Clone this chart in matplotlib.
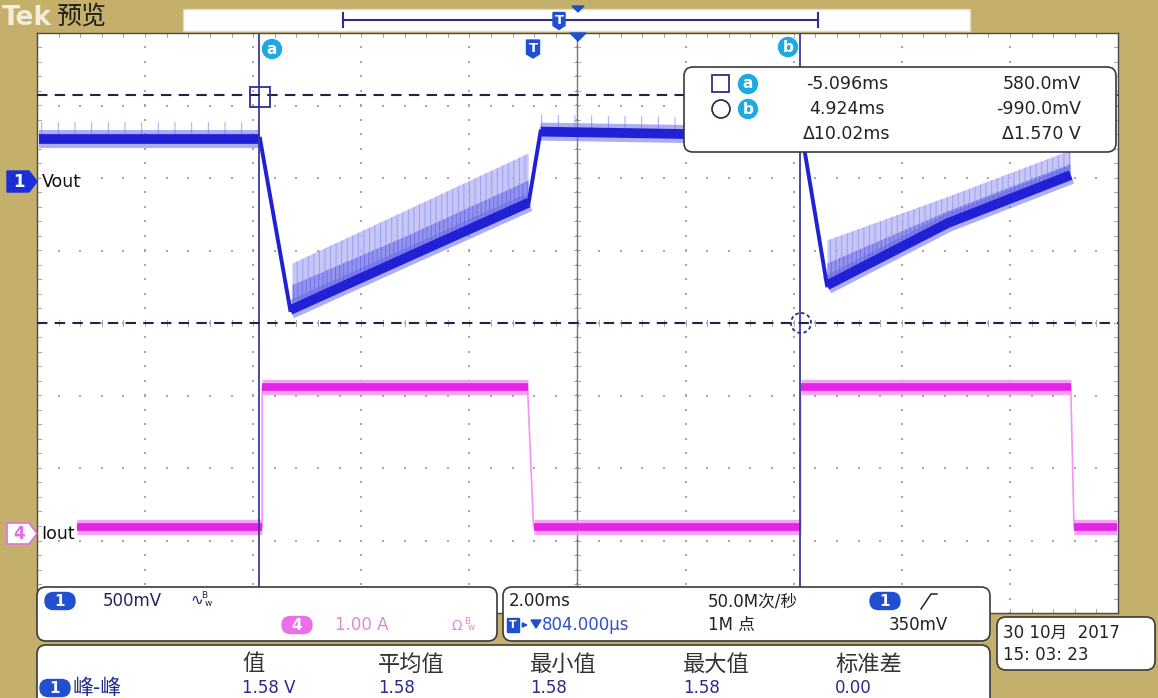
import numpy as np
import matplotlib
matplotlib.use("Agg")
import matplotlib.pyplot as plt
from matplotlib.patches import FancyBboxPatch, Rectangle, Circle, Polygon

# ---------------- data ----------------
time_per_div = 2.0        # ms/div
h_pos = 0.804             # ms : screen centre relative to trigger
ch1_scale = 0.5           # V/div
ch1_offset_div = 1.98     # ch1 ground marker position (div)
ch4_scale = 1.0           # A/div
ch4_offset_div = -2.91    # ch4 ground marker position (div)

# Vout (ch1) dark trace core, ms vs V
vout_t = [-9.15, -5.07, -4.51, -2.34, -0.10, 0.12, 4.96, 5.42, 7.66, 9.93]
vout_v = [0.28, 0.28, -0.90, -0.535, -0.16, 0.33, 0.30, -0.73, -0.30, 0.03]

# Vout ripple envelope on the two ramps
ramp1_t = [-4.47, -2.34, -0.10]
ramp1_lo = [-0.85, -0.535, -0.16]
ramp1_hi = [-0.58, -0.21, 0.18]
ramp2_t = [5.43, 7.66, 9.93]
ramp2_lo = [-0.71, -0.30, 0.03]
ramp2_hi = [-0.42, -0.12, 0.20]

# Iout (ch4), ms vs A
iout_t = [-8.45, -5.03, -5.03, -0.12, -0.01, 4.93, 4.93, 9.93, 9.99, 10.79]
iout_a = [0.10, 0.10, 2.03, 2.03, 0.10, 0.10, 2.03, 2.03, 0.10, 0.10]

# cursors
cur_a_t, cur_b_t = -5.096, 4.924
cur_a_v, cur_b_v = 0.580, -0.990

cursor_rows = [("-5.096ms", "580.0mV"), ("4.924ms", "-990.0mV"), ("\u039410.02ms", "\u03941.570 V")]
meas_headers = ["值", "平均值", "最小值", "最大值", "标准差"]
meas_values = ["1.58 V", "1.58", "1.58", "1.58", "0.00"]

# ---------------- style ----------------
TAN = "#c4af6b"
NAVY = "#2e2e8c"
BLUE_CORE = "#2020d4"
BLUE_HALO = "#6a6ae8"
BLUE_LIGHT = "#b8b8f6"
MAG_CORE = "#e524e5"
MAG_HALO = "#f294f2"
CYAN = "#1ea9e1"
TBLUE = "#2050d0"
GRID = "#a8a8a8"
CJK = "Noto Sans CJK SC"
MIX = ["DejaVu Sans", CJK]

plt.rcParams["hatch.linewidth"] = 0.7
W, H = 1158, 698
gl, gt, gr, gb = 37, 33, 1118, 613

fig = plt.figure(figsize=(W / 100, H / 100), dpi=100)
fig.patch.set_facecolor(TAN)

ax = fig.add_axes([gl / W, 1 - gb / H, (gr - gl) / W, (gb - gt) / H])
x0, x1 = h_pos - 5 * time_per_div, h_pos + 5 * time_per_div
ax.set_xlim(x0, x1)
ax.set_ylim(-4, 4)
ax.set_xticks([])
ax.set_yticks([])
ax.set_facecolor("white")
for s in ax.spines.values():
    s.set_color("#4a4a4a")
    s.set_linewidth(1.0)

pxx = (x1 - x0) / (gr - gl)     # data units per pixel (x)
pxy = 8.0 / (gb - gt)           # data units per pixel (y)

# graticule dots
xmaj = [h_pos + time_per_div * k for k in range(-4, 5)]
ymaj = list(range(-3, 4))
yminor = np.arange(-4, 4.001, 0.2)
xminor = np.arange(x0, x1 + 1e-9, time_per_div / 5)
dx, dy = [], []
for xm in xmaj:
    dx += [xm] * len(yminor)
    dy += list(yminor)
for ym in ymaj:
    dx += list(xminor)
    dy += [ym] * len(xminor)
ax.scatter(dx, dy, s=1.3, marker="s", color=GRID, linewidths=0, zorder=1)
# centre ticks and border ticks
for xm in xminor:
    ax.plot([xm, xm], [-3 * pxy, 3 * pxy], color=GRID, lw=0.7, zorder=1)
    ax.plot([xm, xm], [4 - 4 * pxy, 4], color=GRID, lw=0.7, zorder=1)
    ax.plot([xm, xm], [-4, -4 + 4 * pxy], color=GRID, lw=0.7, zorder=1)
for ym in yminor:
    ax.plot([h_pos - 3 * pxx, h_pos + 3 * pxx], [ym, ym], color=GRID, lw=0.7, zorder=1)
    ax.plot([x0, x0 + 4 * pxx], [ym, ym], color=GRID, lw=0.7, zorder=1)
    ax.plot([x1 - 4 * pxx, x1], [ym, ym], color=GRID, lw=0.7, zorder=1)
# horizontal-position line
ax.axvline(h_pos, color="#777777", lw=1.0, zorder=1.5)

# cursors
def v2d(v):
    return np.asarray(v) / ch1_scale + ch1_offset_div

for tc in (cur_a_t, cur_b_t):
    ax.axvline(tc, color="#3a3a9a", lw=1.3, zorder=6)
for vc in (cur_a_v, cur_b_v):
    ax.axhline(v2d(vc), color="#22224a", lw=1.5, ls=(0, (5, 3.5)), zorder=6)

# ---- Vout ----
vt = np.array(vout_t)
vd = v2d(vout_v)
runs, cur, cur_kind = [], [0], None
for i in range(len(vt) - 1):
    slope = abs(vout_v[i + 1] - vout_v[i]) / (vout_t[i + 1] - vout_t[i])
    kind = "fast" if slope > 1.0 else "slow"
    if kind != cur_kind and cur_kind is not None:
        runs.append((cur_kind, cur))
        cur = [i]
    cur_kind = kind
    cur.append(i + 1)
runs.append((cur_kind, cur))

for tt, lo, hi in [(ramp1_t, ramp1_lo, ramp1_hi), (ramp2_t, ramp2_lo, ramp2_hi)]:
    lo_d, hi_d = v2d(lo), v2d(hi)
    mid_d = lo_d + (hi_d - lo_d) * 0.45
    ax.fill_between(tt, lo_d, hi_d, facecolor=BLUE_LIGHT, edgecolor="#9494f0",
                    hatch="|||", linewidth=0, alpha=0.8, zorder=2)
    ax.fill_between(tt, lo_d, mid_d, facecolor="#8c8cee", edgecolor="#6a6ae6",
                    hatch="||||", linewidth=0, alpha=0.85, zorder=2.2)

for kind, idx in runs:
    if kind == "fast":
        ax.plot(vt[idx], vd[idx], color=BLUE_CORE, lw=2.8, solid_joinstyle="round", zorder=4)
    else:
        ax.plot(vt[idx], vd[idx], color=BLUE_HALO, lw=13, alpha=0.55,
                solid_capstyle="butt", solid_joinstyle="round", zorder=3)
        ax.plot(vt[idx], vd[idx], color=BLUE_CORE, lw=7, solid_capstyle="butt",
                solid_joinstyle="round", zorder=4)
        if idx[-1] - idx[0] == 1 and abs(vd[idx[0]] - vd[idx[-1]]) < 0.2:
            ax.fill_between(vt[idx], vd[idx] + 4 * pxy, vd[idx] + 17 * pxy, facecolor="none",
                            edgecolor="#a6a6f4", hatch="|", linewidth=0, zorder=2)

# ---- Iout ----
it = np.array(iout_t)
idv = np.array(iout_a) / ch4_scale + ch4_offset_div
ax.plot(it, idv, color=MAG_HALO, lw=1.2, zorder=3)
for i in range(len(it) - 1):
    if iout_a[i] == iout_a[i + 1]:
        ax.plot(it[i:i + 2], idv[i:i + 2], color=MAG_HALO, lw=11, alpha=0.85,
                solid_capstyle="butt", zorder=3)
        ax.plot(it[i:i + 2], idv[i:i + 2], color=MAG_CORE, lw=5.5,
                solid_capstyle="butt", zorder=4)

# ---------------- overlay (pixel coordinates) ----------------
ov = fig.add_axes([0, 0, 1, 1], zorder=5)
ov.set_xlim(0, W)
ov.set_ylim(H, 0)
ov.axis("off")
ov.patch.set_alpha(0)


def rbox(x, y, w, h, r=8, fc="white", ec="#3a3a3a", lw=1.2):
    ov.add_patch(FancyBboxPatch((x, y), w, h, boxstyle=f"round,pad=0,rounding_size={r}",
                                fc=fc, ec=ec, lw=lw, zorder=2))


def pill(cx, cy, txt, fc=TBLUE, tc="white", w=30, h=17, fs=11):
    ov.add_patch(FancyBboxPatch((cx - w / 2, cy - h / 2), w, h,
                                boxstyle=f"round,pad=0,rounding_size={h / 2}",
                                fc=fc, ec=fc, lw=1, zorder=4))
    ov.text(cx, cy + 0.5, txt, color=tc, ha="center", va="center", fontsize=fs,
            fontweight="bold", zorder=5)


def badge(cx, cy, txt, r=9.5):
    ov.add_patch(Circle((cx, cy), r, fc=CYAN, ec=CYAN, zorder=4))
    ov.text(cx, cy, txt, color="white", ha="center", va="center", fontsize=11,
            fontweight="bold", zorder=5)


def shield(cx, cy, h=18, w=13):
    pts = [(cx - w / 2, cy - h / 2), (cx + w / 2, cy - h / 2), (cx + w / 2, cy + h / 2 - 4),
           (cx, cy + h / 2), (cx - w / 2, cy + h / 2 - 4)]
    ov.add_patch(Polygon(pts, closed=True, fc=TBLUE, ec=TBLUE, zorder=4))
    ov.text(cx, cy - 1, "T", color="white", ha="center", va="center", fontsize=9.5,
            fontweight="bold", zorder=5)


# header
ov.text(2, 18, "Tek", color="#f3eedc", fontsize=19, fontweight="bold", ha="left",
        va="center", zorder=3)
ov.text(56, 17, "预览", color="#1e1e1e", fontsize=18, family=CJK, ha="left",
        va="center", zorder=3)
ov.add_patch(Rectangle((183, 9), 787, 22, fc="white", ec="#e3dbb8", lw=1, zorder=2))
ov.plot([343, 818], [20, 20], color=NAVY, lw=1.5, zorder=3)
ov.plot([343, 343], [13, 27], color=NAVY, lw=1.5, zorder=3)
ov.plot([818, 818], [13, 27], color=NAVY, lw=1.5, zorder=3)
shield(559, 21, h=17, w=12)
ov.add_patch(Polygon([(572, 6), (584, 6), (578, 12)], fc=TBLUE, ec=TBLUE, zorder=4))
ov.add_patch(Polygon([(570, 33), (586, 33), (578, 41)], fc=TBLUE, ec=TBLUE, zorder=4))

# graticule markers
badge(272, 49, "a")
shield(533, 49)
badge(788, 47, "b")
ov.add_patch(Rectangle((250, 87), 20, 20, fc="none", ec=NAVY, lw=1.3, zorder=4))
ov.add_patch(Circle((801, 323), 10, fc="none", ec=NAVY, lw=1.3, ls=(0, (2, 1.5)), zorder=4))

# channel markers
ov.add_patch(Polygon([(7, 171), (29, 171), (37, 181.5), (29, 192), (7, 192)],
                     fc="#1b2fd8", ec="#1b2fd8", zorder=4))
ov.text(19, 182, "1", color="white", fontsize=12, fontweight="bold", ha="center",
        va="center", zorder=5)
ov.text(42, 182, "Vout", color="#111111", fontsize=12.5, ha="left", va="center", zorder=5)
ov.add_patch(Polygon([(7, 523), (29, 523), (37, 533.5), (29, 544), (7, 544)],
                     fc="white", ec="#e070e0", lw=1.2, zorder=4))
ov.text(19, 534, "4", color="#e070e0", fontsize=12, fontweight="bold", ha="center",
        va="center", zorder=5)
ov.text(41, 534, "Iout", color="#111111", fontsize=12.5, ha="left", va="center", zorder=5)

# cursor read-out box
rbox(684, 67, 432, 85, r=9)
ov.add_patch(Rectangle((712, 75), 17, 17, fc="none", ec=NAVY, lw=1.3, zorder=4))
ov.add_patch(Circle((721, 109), 9, fc="none", ec="#222244", lw=1.2, zorder=4))
badge(748, 84, "a")
badge(748, 109, "b")
for k, (tx, vx) in enumerate(cursor_rows):
    yy = 84 + 25 * k
    ov.text(847, yy, tx, fontsize=12.5, color="#222222", ha="center", va="center", zorder=5)
    ov.text(1081, yy, vx, fontsize=12.5, color="#222222", ha="right", va="center", zorder=5)

# bottom panel 1 : vertical settings
rbox(37, 587, 460, 54, r=9)
pill(60, 601, "1")
ov.text(103, 601, "500mV", fontsize=12, color="#222266", ha="left", va="center", zorder=5)
ov.text(190, 600, "\u223f", fontsize=11, color="#222266", ha="left", va="center", zorder=5)
ov.text(201, 596, "B", fontsize=6.5, color="#222266", ha="left", va="center", zorder=5)
ov.text(205, 603, "w", fontsize=6.5, color="#222266", ha="left", va="center", zorder=5)
pill(297, 625, "4", fc="#ea6fe8")
ov.text(335, 625, "1.00 A", fontsize=12, color="#d98bd8", ha="left", va="center", zorder=5)
ov.text(452, 626, "\u03a9", fontsize=10, color="#d98bd8", ha="left", va="center", zorder=5)
ov.text(464, 621, "B", fontsize=6.5, color="#d98bd8", ha="left", va="center", zorder=5)
ov.text(468, 628, "w", fontsize=6.5, color="#d98bd8", ha="left", va="center", zorder=5)

# bottom panel 2 : horizontal / trigger
rbox(503, 587, 487, 54, r=9)
ov.text(509, 601, "2.00ms", fontsize=12, color="#222222", ha="left", va="center", zorder=5)
ov.text(708, 601, "50.0M次/秒", fontsize=12, family=MIX, color="#222222", ha="left",
        va="center", zorder=5)
pill(885, 601, "1")
ov.plot([921, 931, 937], [609, 594, 594], color="#222222", lw=1.1, zorder=5)
ov.add_patch(Rectangle((507, 618), 12, 14, fc=TBLUE, ec=TBLUE, zorder=4))
ov.text(513, 625, "T", fontsize=8, color="white", fontweight="bold", ha="center",
        va="center", zorder=5)
ov.annotate("", xy=(531, 625), xytext=(520, 625),
            arrowprops=dict(arrowstyle="-|>", color=TBLUE, lw=1.2, mutation_scale=7), zorder=5)
ov.add_patch(Polygon([(531, 620), (541, 620), (536, 628)], fc=TBLUE, ec=TBLUE, zorder=5))
ov.text(542, 625, "804.000\u00b5s", fontsize=12, color="#3050c8", ha="left", va="center",
        zorder=5)
ov.text(708, 625, "1M 点", fontsize=12, family=MIX, color="#222222", ha="left",
        va="center", zorder=5)
ov.text(948, 625, "350mV", fontsize=12, color="#222222", ha="right", va="center", zorder=5)

# date box
rbox(997, 617, 158, 53, r=9)
ov.text(1003, 633, "30 10月  2017", fontsize=12, family=MIX, color="#222222",
        ha="left", va="center", zorder=5)
ov.text(1003, 655, "15: 03: 23", fontsize=12, color="#222222", ha="left",
        va="center", zorder=5)

# measurement panel
rbox(37, 645, 953, 70, r=9)
pill(55, 688, "1")
ov.text(72, 688, "峰-峰", fontsize=15, family=CJK, color="#1e2a8a", ha="left",
        va="center", zorder=5)
hx = [242, 378, 530, 683, 835]
for x, hd, vv in zip(hx, meas_headers, meas_values):
    ov.text(x, 664, hd, fontsize=16, family=CJK, color="#333333", ha="left", va="center", zorder=5)
    ov.text(x, 688, vv, fontsize=12, color="#2a2a8a", ha="left", va="center", zorder=5)

fig.savefig("out.png", dpi=100, facecolor=TAN)
